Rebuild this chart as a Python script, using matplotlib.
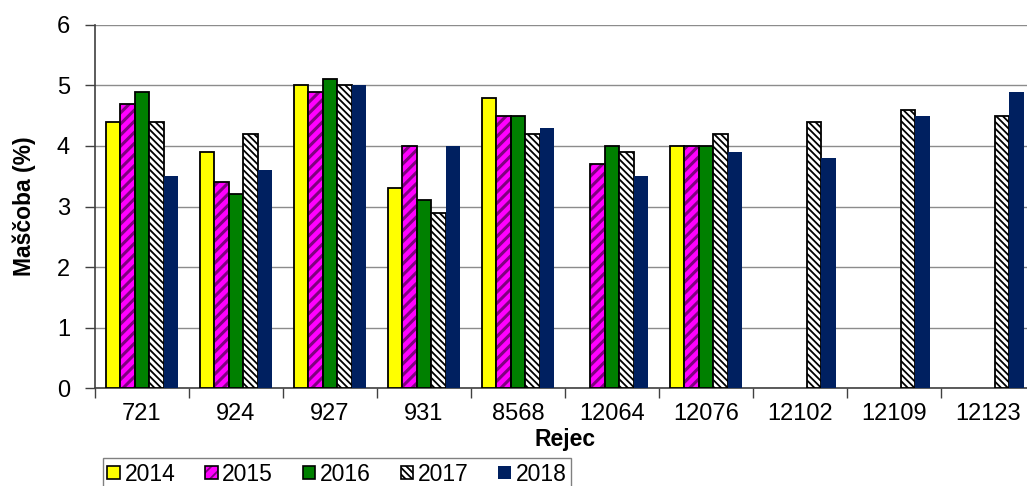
import numpy as np
import matplotlib.pyplot as plt
from matplotlib.patches import Patch

plt.rcParams['font.family'] = ['Liberation Sans', 'DejaVu Sans']

rejci = ['721', '924', '927', '931', '8568', '12064', '12076', '12102', '12109', '12123']
leta = ['2014', '2015', '2016', '2017', '2018']

nan = np.nan
v2014 = [4.4, 3.9, 5.0, 3.3, 4.8, nan, 4.0, nan, nan, nan]
v2015 = [4.7, 3.4, 4.9, 4.0, 4.5, 3.7, 4.0, nan, nan, nan]
v2016 = [4.9, 3.2, 5.1, 3.1, 4.5, 4.0, 4.0, nan, nan, nan]
v2017 = [4.4, 4.2, 5.0, 2.9, 4.2, 3.9, 4.2, 4.4, 4.6, 4.5]
v2018 = [3.5, 3.6, 5.0, 4.0, 4.3, 3.5, 3.9, 3.8, 4.5, 4.9]

fig = plt.figure(figsize=(10.27, 4.86), dpi=100)
ax = fig.add_axes([0.0925, 0.2016, 0.915, 0.747])

x = np.arange(len(rejci))
w = 0.154
off = (np.arange(5) - 2) * w

# 2014 - rumena
ax.bar(x + off[0], v2014, w, color='#FFFF00', edgecolor='black', linewidth=1.3, zorder=3)
# 2015 - magenta s vijolicnimi progami
plt.rcParams['hatch.linewidth'] = 2.2
ax.bar(x + off[1], v2015, w, color='#FF00FF', edgecolor='#800080', hatch='///', linewidth=0, zorder=3)
ax.bar(x + off[1], v2015, w, fill=False, edgecolor='black', linewidth=1.3, zorder=4)
# 2016 - zelena
ax.bar(x + off[2], v2016, w, color='#008000', edgecolor='black', linewidth=1.3, zorder=3)
# 2017 - goste crno-bele progice
plt.rcParams['hatch.linewidth'] = 1.3
ax.bar(x + off[3], v2017, w, color='white', edgecolor='black', hatch='\\' * 5, linewidth=1.3, zorder=3)
# 2018 - temno modra
ax.bar(x + off[4], v2018, w, color='#002060', linewidth=0, zorder=3)

ax.set_xlim(-0.5, len(rejci) - 0.5)
ax.set_ylim(0, 6)
ax.set_yticks(range(0, 7))
ax.yaxis.grid(True, color='#8C8C8C', linewidth=1.0, zorder=0)

# meje med skupinami kot glavne oznake, imena rejcev na sredini
ax.set_xticks(np.arange(len(rejci) + 1) - 0.5)
ax.set_xticklabels([])
ax.set_xticks(x, minor=True)
ax.set_xticklabels(rejci, minor=True)
ax.tick_params(axis='x', which='major', length=7, width=1, color='#404040')
ax.tick_params(axis='x', which='minor', length=0, pad=11, labelsize=17)
ax.tick_params(axis='y', length=7, width=1, color='#404040', labelsize=17, pad=11)

for s in ['top', 'right']:
    ax.spines[s].set_visible(False)
ax.spines['left'].set_color('#404040')
ax.spines['bottom'].set_color('#404040')
ax.spines['left'].set_linewidth(1.2)
ax.spines['bottom'].set_linewidth(1.2)

ax.set_ylabel('Maščoba (%)', fontsize=16.5, fontweight='bold', labelpad=15)
ax.set_xlabel('Rejec', fontsize=16.5, fontweight='bold', labelpad=2)

handles = [
    Patch(facecolor='#FFFF00', edgecolor='black', linewidth=1.2),
    (Patch(facecolor='#FF00FF', edgecolor='#800080', hatch='///', linewidth=0),
     Patch(fill=False, edgecolor='black', linewidth=1.2)),
    Patch(facecolor='#008000', edgecolor='black', linewidth=1.2),
    Patch(facecolor='white', edgecolor='black', hatch='\\' * 5, linewidth=1.2),
    Patch(facecolor='#002060', linewidth=0),
]
leg = fig.legend(handles, leta, loc='upper left', bbox_to_anchor=(0.1, 1 - 458 / 486),
                 ncol=5, fontsize=16.5, frameon=True, fancybox=False,
                 handlelength=0.55, handleheight=0.55, handletextpad=0.2,
                 columnspacing=1.3, borderpad=0.2, borderaxespad=0)
leg.get_frame().set_edgecolor('#606060')
leg.get_frame().set_linewidth(1.0)

fig.savefig('out.png', dpi=100)
